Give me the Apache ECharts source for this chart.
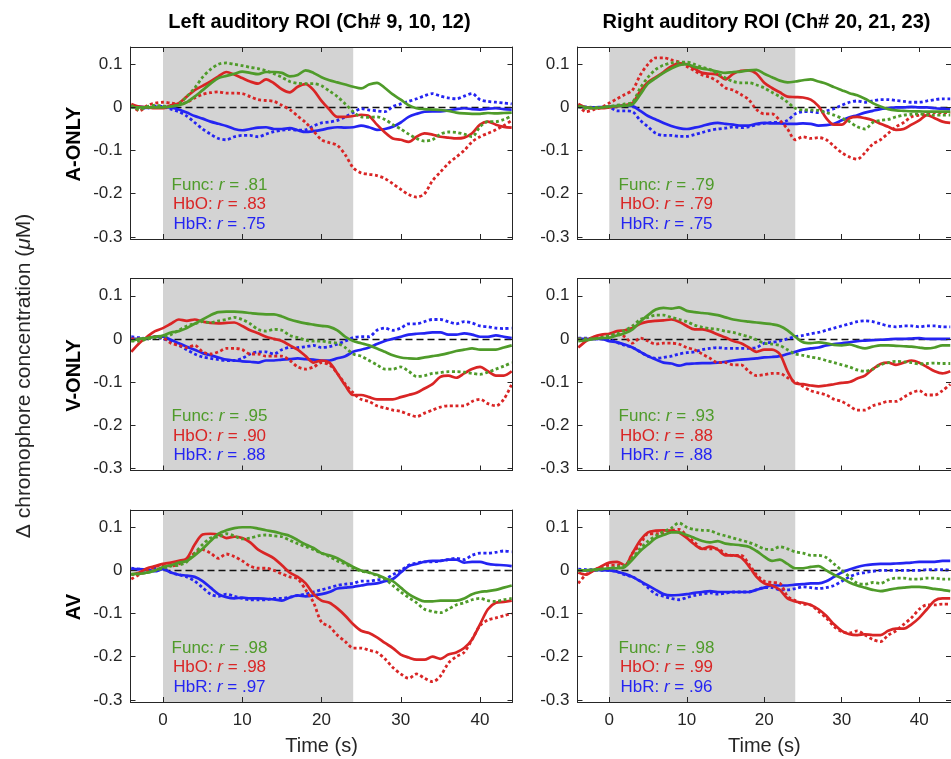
<!DOCTYPE html>
<html>
<head>
<meta charset="utf-8">
<script src="https://cdn.jsdelivr.net/npm/echarts@6/dist/echarts.min.js"></script>
<style>
  html, body { margin: 0; padding: 0; background: #fff; }
  #chart { width: 951px; height: 759px; }
</style>
</head>
<body>
<div id="chart"></div>
<script>
// time axis (s), one sample per second
var time = [-4, -3, -2, -1, 0, 1, 2, 3, 4, 5, 6, 7, 8, 9, 10, 11, 12, 13, 14, 15, 16, 17, 18, 19, 20,
  21, 22, 23, 24, 25, 26, 27, 28, 29, 30, 31, 32, 33, 34, 35, 36, 37, 38, 39, 40, 41, 42, 43, 44];

var regions = ["Left auditory ROI (Ch# 9, 10, 12)", "Right auditory ROI (Ch# 20, 21, 23)"];
var conditions = ["A-ONLY", "V-ONLY", "AV"];
var xTicks = [0, 10, 20, 30, 40];
var yTicks = [-0.3, -0.2, -0.1, 0, 0.1];
var stimOn = 0, stimOff = 24;

// r values: Func, HbO, HbR
var leftAR = [".81", ".83", ".75"];
var rightAR = [".79", ".79", ".75"];
var leftVR = [".95", ".90", ".88"];
var rightVR = [".93", ".88", ".88"];
var leftAVR = [".98", ".98", ".97"];
var rightAVR = [".98", ".99", ".96"];

// ---- Left, A-ONLY ----
var leftAFunc = [0, 0, 0, 0, 0, .002, .005, .012, .025, .04, .055, .068, .073, .078, .083, .08, .077, .082, .082, .08, .072, .075, .086, .08, .07,
  .063, .058, .053, .048, .044, .053, .057, .045, .03, .018, .005, -.002, -.004, -.005, -.006, -.008, -.012, -.014, -.015, -.015, -.013, -.014, -.013, -.012];
var leftAFuncPred = [.005, -.005, .002, .005, .003, .002, .008, .025, .045, .07, .088, .1, .103, .1, .097, .093, .09, .085, .078, .07, .06, .056, .055, .055, .05,
  .038, .025, .008, -.01, -.022, -.023, -.022, -.028, -.04, -.05, -.062, -.072, -.078, -.075, -.062, -.057, -.058, -.062, -.068, -.045, -.033, -.033, -.028, -.02];
var leftAHbO = [.008, .002, 0, -.002, -.002, .005, .01, .025, .04, .05, .06, .072, .082, .076, .068, .06, .055, .065, .056, .042, .035, .048, .054, .04, .015,
  -.005, -.022, -.022, -.02, -.017, -.02, -.04, -.058, -.072, -.075, -.08, -.068, -.06, -.063, -.068, -.07, -.072, -.07, -.06, -.04, -.033, -.04, -.045, -.047];
var leftAHbOPred = [.005, -.008, .004, .01, .012, .01, .008, .012, .022, .03, .034, .036, .033, .033, .032, .025, .018, .016, .014, .005, -.005, -.02, -.035, -.055, -.075,
  -.082, -.088, -.11, -.14, -.152, -.155, -.158, -.165, -.177, -.19, -.202, -.208, -.2, -.17, -.15, -.13, -.115, -.1, -.08, -.068, -.06, -.052, -.042, -.03];
var leftAHbR = [0, .002, -.001, .001, .001, 0, -.005, -.012, -.02, -.026, -.033, -.038, -.043, -.05, -.053, -.05, -.047, -.046, -.05, -.05, -.048, -.053, -.057, -.055, -.052,
  -.048, -.046, -.047, -.046, -.042, -.046, -.052, -.05, -.045, -.035, -.022, -.015, -.01, -.009, -.009, -.007, -.004, -.002, -.004, -.005, -.003, -.002, -.004, -.005];
var leftAHbRPred = [.002, 0, -.002, .003, .002, -.004, -.01, -.02, -.035, -.05, -.062, -.072, -.075, -.068, -.065, -.065, -.068, -.062, -.056, -.053, -.051, -.053, -.052, -.043, -.036,
  -.034, -.03, -.022, -.012, -.003, -.006, -.008, -.01, .002, .008, .014, .02, .027, .032, .026, .022, .02, .026, .032, .018, .014, .012, .01, .008];

// ---- Right, A-ONLY ----
var rightAFunc = [.003, 0, -.002, 0, .002, .003, .004, .007, .03, .055, .068, .08, .09, .098, .1, .094, .09, .087, .083, .08, .082, .083, .086, .087, .078,
  .07, .062, .058, .06, .063, .065, .06, .055, .047, .04, .033, .028, .02, .01, .002, -.004, -.007, -.008, -.009, -.009, -.01, -.01, -.01, -.01];
var rightAFuncPred = [.002, -.002, 0, 0, .002, .005, .008, .012, .045, .07, .088, .098, .103, .105, .105, .1, .093, .088, .078, .068, .06, .057, .057, .052, .045,
  .035, .025, .012, -.002, -.006, -.006, -.007, -.012, -.018, -.025, -.033, -.045, -.05, -.035, -.03, -.028, -.022, -.018, -.016, -.015, -.017, -.018, -.018, -.018];
var rightAHbO = [.008, 0, -.002, -.002, 0, .003, .005, .01, .038, .058, .07, .082, .095, .102, .1, .09, .08, .078, .076, .065, .078, .085, .086, .078, .057,
  .045, .035, .025, .024, .023, .018, .003, -.025, -.04, -.04, -.025, -.022, -.025, -.03, -.038, -.045, -.052, -.05, -.04, -.03, -.018, -.025, -.033, -.036];
var rightAHbOPred = [.005, -.01, -.005, 0, .01, .02, .03, .04, .075, .1, .115, .115, .11, .105, .095, .085, .075, .07, .06, .045, .04, .03, .018, -.005, -.015,
  -.015, -.03, -.05, -.075, -.068, -.072, -.07, -.075, -.09, -.105, -.115, -.12, -.105, -.085, -.075, -.06, -.045, -.035, -.022, -.018, -.015, -.012, -.012, -.012];
var rightAHbR = [.002, 0, 0, .001, .002, .003, .004, .003, -.008, -.02, -.028, -.036, -.043, -.048, -.05, -.047, -.043, -.038, -.036, -.038, -.04, -.042, -.042, -.038, -.036,
  -.037, -.037, -.038, -.038, -.037, -.038, -.042, -.041, -.038, -.03, -.023, -.018, -.012, -.008, -.004, -.002, 0, 0, .001, 0, 0, -.002, -.003, -.004];
var rightAHbRPred = [.001, .001, 0, 0, 0, -.008, -.008, -.01, -.03, -.045, -.06, -.065, -.065, -.067, -.067, -.063, -.058, -.053, -.05, -.048, -.045, -.047, -.045, -.04, -.037,
  -.035, -.035, -.03, -.015, -.01, -.01, -.012, -.008, -.003, .005, .012, .015, .012, .015, .018, .018, .016, .014, .012, .012, .015, .018, .02, .02];

// ---- Left, V-ONLY ----
var leftVFunc = [-.005, 0, .002, .005, .008, .015, .018, .025, .035, .045, .055, .062, .063, .063, .062, .06, .058, .057, .057, .052, .045, .04, .036, .033, .03,
  .028, .02, .005, -.005, -.01, -.015, -.022, -.03, -.038, -.043, -.045, -.046, -.043, -.04, -.037, -.033, -.028, -.025, -.022, -.025, -.025, -.025, -.02, -.015];
var leftVFuncPred = [-.005, -.005, 0, .003, .005, .01, .02, .03, .035, .04, .038, .042, .045, .05, .045, .035, .022, .018, .022, .02, .008, .003, -.003, -.005, -.005,
  -.008, -.01, -.02, -.035, -.04, -.05, -.06, -.07, -.07, -.065, -.075, -.087, -.085, -.08, -.078, -.076, -.076, -.077, -.08, -.082, -.077, -.07, -.063, -.055];
var leftVHbO = [-.03, -.01, .005, .018, .025, .035, .045, .042, .045, .04, .037, .036, .037, .038, .03, .02, .013, .005, 0, -.005, -.015, -.025, -.04, -.055, -.05,
  -.055, -.08, -.108, -.13, -.13, -.135, -.14, -.14, -.14, -.135, -.13, -.125, -.115, -.105, -.088, -.085, -.09, -.08, -.07, -.065, -.075, -.085, -.085, -.075];
var leftVHbOPred = [0, 0, .002, .005, .003, -.01, -.015, -.02, -.015, -.03, -.035, -.03, -.022, -.022, -.025, -.035, -.035, -.04, -.04, -.04, -.05, -.065, -.07, -.065, -.055,
  -.06, -.08, -.105, -.125, -.14, -.145, -.155, -.16, -.165, -.168, -.175, -.18, -.172, -.165, -.158, -.155, -.155, -.155, -.145, -.14, -.15, -.155, -.14, -.105];
var leftVHbR = [0, 0, .002, .005, .005, -.002, -.01, -.018, -.025, -.033, -.038, -.043, -.048, -.05, -.052, -.053, -.055, -.05, -.05, -.048, -.047, -.045, -.047, -.048, -.05,
  -.05, -.045, -.04, -.03, -.025, -.02, -.012, -.005, 0, .005, .01, .012, .013, .015, .015, .01, .01, .013, .01, .005, .005, .008, .005, .002];
var leftVHbRPred = [.005, .003, 0, .005, 0, -.005, -.015, -.025, -.035, -.042, -.045, -.048, -.05, -.05, -.045, -.035, -.03, -.03, -.035, -.025, -.02, -.02, -.018, -.015, -.02,
  -.018, -.012, -.005, .003, .005, .005, .02, .025, .02, .025, .035, .035, .04, .045, .045, .04, .035, .04, .037, .03, .028, .025, .024, .025];

// ---- Right, V-ONLY ----
var rightVFunc = [-.005, -.003, 0, .002, .003, .008, .013, .022, .04, .055, .068, .072, .07, .073, .065, .062, .06, .058, .055, .05, .045, .042, .04, .038, .036,
  .034, .03, .02, .005, -.008, -.01, -.008, -.01, -.014, -.015, -.013, -.018, -.022, -.018, -.015, -.015, -.016, -.017, -.018, -.02, -.022, -.02, -.015, -.015];
var rightVFuncPred = [0, 0, 0, .003, .008, .012, .02, .03, .045, .05, .055, .055, .05, .045, .04, .032, .027, .024, .022, .018, .015, .01, .005, -.002, -.01,
  -.012, -.015, -.025, -.035, -.038, -.042, -.045, -.05, -.055, -.06, -.065, -.072, -.075, -.07, -.06, -.055, -.052, -.053, -.055, -.058, -.057, -.056, -.057, -.057];
var rightVHbO = [-.02, -.005, .005, .01, .012, .018, .02, .025, .035, .04, .042, .043, .045, .04, .03, .022, .022, .018, .01, .003, -.005, -.01, -.02, -.03, -.025,
  -.025, -.035, -.075, -.103, -.105, -.108, -.11, -.108, -.105, -.102, -.1, -.092, -.085, -.07, -.058, -.055, -.06, -.055, -.05, -.055, -.065, -.075, -.08, -.075];
var rightVHbOPred = [0, 0, .003, .005, .008, .01, .005, -.01, .002, -.005, -.012, -.01, -.01, -.012, -.02, -.025, -.035, -.045, -.055, -.055, -.06, -.06, -.075, -.085, -.083,
  -.08, -.08, -.09, -.1, -.11, -.12, -.125, -.13, -.14, -.145, -.155, -.165, -.165, -.155, -.15, -.145, -.145, -.135, -.125, -.12, -.13, -.13, -.12, -.105];
var rightVHbR = [0, 0, 0, 0, -.005, -.008, -.013, -.02, -.03, -.04, -.048, -.055, -.057, -.062, -.058, -.057, -.056, -.056, -.055, -.053, -.05, -.048, -.047, -.045, -.043,
  -.042, -.04, -.035, -.03, -.025, -.022, -.02, -.015, -.012, -.01, -.008, -.005, -.004, -.003, -.002, -.001, 0, 0, .001, .002, 0, 0, 0, 0];
var rightVHbRPred = [.002, .002, 0, 0, -.002, -.008, -.015, -.02, -.03, -.04, -.045, -.043, -.04, -.035, -.032, -.03, -.025, -.022, -.02, -.022, -.022, -.022, -.022, -.02, -.01,
  -.008, -.005, 0, .005, .008, .012, .015, .02, .025, .03, .035, .04, .042, .04, .035, .03, .028, .03, .03, .028, .03, .03, .028, .028];

// ---- Left, AV ----
var leftAVFunc = [-.008, -.008, -.005, 0, .008, .012, .018, .022, .035, .05, .068, .085, .093, .098, .1, .1, .097, .093, .09, .085, .08, .07, .06, .052, .04,
  .035, .028, .018, .008, 0, -.005, -.01, -.018, -.025, -.04, -.055, -.065, -.072, -.072, -.07, -.07, -.07, -.065, -.055, -.05, -.048, -.045, -.04, -.035];
var leftAVFuncPred = [-.01, -.008, -.005, 0, .005, .01, .012, .02, .04, .06, .075, .078, .085, .08, .073, .075, .08, .082, .08, .078, .07, .062, .055, .048, .04,
  .032, .022, .015, .005, -.002, -.005, -.012, -.02, -.035, -.05, -.063, -.075, -.09, -.095, -.098, -.09, -.08, -.075, -.068, -.065, -.07, -.072, -.068, -.065];
var leftAVHbO = [-.01, -.005, .005, .01, .015, .018, .022, .028, .06, .083, .085, .083, .075, .078, .075, .065, .048, .038, .028, .012, -.005, -.015, -.03, -.055, -.07,
  -.075, -.088, -.105, -.125, -.14, -.145, -.155, -.168, -.18, -.195, -.202, -.207, -.207, -.2, -.205, -.195, -.19, -.18, -.16, -.125, -.09, -.075, -.073, -.07];
var leftAVHbOPred = [-.02, -.01, 0, .008, .012, .01, .015, .025, .04, .048, .04, .028, .038, .032, .022, .01, .005, .005, 0, -.008, -.015, -.02, -.045, -.075, -.12,
  -.13, -.15, -.165, -.18, -.18, -.185, -.19, -.205, -.225, -.24, -.25, -.24, -.25, -.258, -.245, -.215, -.2, -.19, -.16, -.128, -.115, -.11, -.105, -.1];
var leftAVHbR = [.003, .003, .002, -.002, .003, -.005, -.01, -.012, -.015, -.025, -.04, -.055, -.062, -.065, -.063, -.065, -.065, -.066, -.067, -.07, -.063, -.058, -.06, -.058, -.055,
  -.05, -.042, -.04, -.038, -.035, -.032, -.03, -.025, -.02, -.005, .01, .015, .02, .022, .022, .025, .025, .018, .02, .02, .015, .013, .012, .01];
var leftAVHbRPred = [.005, .003, 0, .005, .005, -.005, -.01, -.015, -.025, -.04, -.055, -.06, -.055, -.06, -.065, -.068, -.068, -.068, -.065, -.065, -.062, -.058, -.055, -.05, -.045,
  -.04, -.035, -.032, -.03, -.025, -.025, -.022, -.02, -.01, 0, .012, .017, .02, .02, .022, .025, .028, .025, .035, .04, .04, .042, .045, .043];

// ---- Right, AV ----
var rightAVFunc = [0, 0, .002, .003, .005, .005, .008, .025, .045, .06, .075, .082, .088, .088, .082, .075, .068, .065, .068, .062, .06, .058, .055, .045, .032,
  .022, .025, .015, .005, .005, .008, .01, 0, -.01, -.018, -.028, -.035, -.04, -.045, -.048, -.045, -.042, -.04, -.038, -.038, -.04, -.043, -.045, -.048];
var rightAVFuncPred = [0, 0, 0, .003, .005, .008, .012, .03, .05, .068, .08, .09, .098, .11, .1, .095, .093, .092, .085, .08, .075, .07, .065, .058, .05,
  .048, .055, .05, .043, .04, .035, .035, .03, .015, 0, -.015, -.03, -.032, -.028, -.03, -.022, -.018, -.018, -.02, -.02, -.018, -.018, -.02, -.02];
var rightAVHbO = [-.005, -.01, 0, .01, .018, .02, .012, .04, .07, .088, .092, .093, .092, .088, .075, .06, .05, .055, .048, .035, .035, .03, .01, -.015, -.03,
  -.035, -.045, -.065, -.072, -.075, -.08, -.09, -.105, -.125, -.14, -.148, -.15, -.148, -.15, -.15, -.14, -.135, -.135, -.125, -.11, -.09, -.07, -.065, -.065];
var rightAVHbOPred = [-.03, -.01, 0, .008, .012, .012, .01, .04, .06, .085, .085, .085, .092, .095, .08, .065, .05, .05, .05, .038, .035, .035, .015, -.01, -.025,
  -.028, -.03, -.06, -.07, -.078, -.08, -.095, -.11, -.13, -.142, -.145, -.14, -.15, -.16, -.165, -.15, -.14, -.125, -.11, -.09, -.08, -.08, -.078, -.078];
var rightAVHbR = [0, 0, 0, .001, 0, -.003, -.008, -.015, -.025, -.035, -.045, -.055, -.058, -.057, -.055, -.052, -.05, -.048, -.05, -.05, -.05, -.05, -.05, -.045, -.04,
  -.035, -.035, -.035, -.033, -.032, -.03, -.03, -.025, -.015, -.005, .002, .008, .012, .014, .015, .015, .016, .017, .018, .02, .02, .02, .022, .022];
var rightAVHbRPred = [.003, .002, .002, 0, 0, -.003, -.01, -.015, -.025, -.04, -.055, -.06, -.065, -.068, -.063, -.058, -.055, -.052, -.055, -.053, -.05, -.05, -.05, -.045, -.04,
  -.04, -.045, -.045, -.042, -.038, -.04, -.042, -.04, -.035, -.025, -.015, -.008, -.005, -.002, 0, 0, 0, 0, 0, 0, .002, .002, .002, 0];

var GREEN = "#4f9b2a", RED = "#d92525", BLUE = "#2424f2", INK = "#262626";
var FONT = "'Liberation Sans', Arial, Helvetica, sans-serif";

var panels = [
  { row: 0, col: 0, r: leftAR, lines: [leftAFunc, leftAFuncPred, leftAHbO, leftAHbOPred, leftAHbR, leftAHbRPred] },
  { row: 0, col: 1, r: rightAR, lines: [rightAFunc, rightAFuncPred, rightAHbO, rightAHbOPred, rightAHbR, rightAHbRPred] },
  { row: 1, col: 0, r: leftVR, lines: [leftVFunc, leftVFuncPred, leftVHbO, leftVHbOPred, leftVHbR, leftVHbRPred] },
  { row: 1, col: 1, r: rightVR, lines: [rightVFunc, rightVFuncPred, rightVHbO, rightVHbOPred, rightVHbR, rightVHbRPred] },
  { row: 2, col: 0, r: leftAVR, lines: [leftAVFunc, leftAVFuncPred, leftAVHbO, leftAVHbOPred, leftAVHbR, leftAVHbRPred] },
  { row: 2, col: 1, r: rightAVR, lines: [rightAVFunc, rightAVFuncPred, rightAVHbO, rightAVHbOPred, rightAVHbR, rightAVHbRPred] }
];

// layout
var colLeft = [130.5, 577.5], gridW = 382;
var rowTop = [47, 278.5, 510], gridH = 192;

function pairs(arr) {
  return time.map(function (t, i) { return [t, arr[i]]; });
}

var grids = [], xAxes = [], yAxes = [], series = [], graphics = [];

panels.forEach(function (p, g) {
  var bottomRow = p.row === 2;
  grids.push({ left: colLeft[p.col], top: rowTop[p.row], width: gridW, height: gridH });

  var xBase = {
    gridIndex: g, type: "value", min: -4.1, max: 44.1, z: 6,
    axisLine: { show: true, onZero: false, lineStyle: { color: INK, width: 1 } },
    axisTick: { show: true, inside: true, length: 5, customValues: xTicks, lineStyle: { color: INK } },
    splitLine: { show: false }
  };
  xAxes.push(Object.assign({}, xBase, {
    position: "bottom",
    axisLabel: { show: bottomRow, customValues: xTicks, fontSize: 17, color: INK, fontFamily: FONT, margin: 10 },
    name: bottomRow ? "Time (s)" : "", nameLocation: "middle", nameGap: 34,
    nameTextStyle: { fontSize: 20, color: INK, fontFamily: FONT }
  }));
  xAxes.push(Object.assign({}, xBase, { position: "top", axisLabel: { show: false } }));

  var yBase = {
    gridIndex: g, type: "value", min: -0.305, max: 0.14, z: 6,
    axisLine: { show: true, onZero: false, lineStyle: { color: INK, width: 1 } },
    axisTick: { show: true, inside: true, length: 5, customValues: yTicks, lineStyle: { color: INK } },
    splitLine: { show: false }
  };
  yAxes.push(Object.assign({}, yBase, {
    position: "left",
    axisLabel: {
      customValues: yTicks, fontSize: 17, color: INK, fontFamily: FONT, margin: 8,
      formatter: function (v) { return Math.abs(v) < 1e-9 ? "0" : v.toFixed(1); }
    }
  }));
  yAxes.push(Object.assign({}, yBase, { position: "right", axisLabel: { show: false } }));

  var xi = 2 * g, yi = 2 * g;
  // stimulus block + zero line
  series.push({
    type: "line", xAxisIndex: xi, yAxisIndex: yi, data: [], silent: true,
    markArea: { silent: true, z: 1, itemStyle: { color: "#d3d3d3" }, data: [[{ xAxis: stimOn }, { xAxis: stimOff }]] },
    markLine: {
      silent: true, z: 1.5, symbol: "none", label: { show: false },
      lineStyle: { color: "#111", width: 1.3, type: [7, 4] }, data: [{ yAxis: 0 }]
    }
  });

  var colors = [GREEN, GREEN, RED, RED, BLUE, BLUE];
  var order = [5, 4, 3, 2, 1, 0];
  order.forEach(function (k) {
    var dotted = k % 2 === 1;
    series.push({
      type: "line", xAxisIndex: xi, yAxisIndex: yi, z: 3,
      data: pairs(p.lines[k]), showSymbol: false, smooth: 0.3, silent: true,
      lineStyle: { color: colors[k], width: dotted ? 2.8 : 2.7, type: dotted ? [3, 2.6] : "solid" }
    });
  });

  // r annotations
  var names = ["Func", "HbO", "HbR"], tc = [GREEN, RED, BLUE];
  names.forEach(function (n, j) {
    graphics.push({
      type: "text", z: 20,
      x: colLeft[p.col] + 89, y: rowTop[p.row] + 138 + j * 19.5,
      style: {
        text: "{a|" + n + ": }{b|r}{a| = " + p.r[j] + "}",
        align: "center", verticalAlign: "middle", textAlign: "center", textVerticalAlign: "middle",
        rich: {
          a: { fill: tc[j], font: "17px " + FONT },
          b: { fill: tc[j], font: "italic 17px " + FONT }
        }
      }
    });
  });
});

// column titles
regions.forEach(function (t, c) {
  graphics.push({
    type: "text", x: colLeft[c] + 189, y: 22,
    style: { text: t, font: "bold 20px " + FONT, fill: "#000", align: "center", verticalAlign: "middle", textAlign: "center", textVerticalAlign: "middle" }
  });
});
// row labels
conditions.forEach(function (t, r) {
  graphics.push({
    type: "text", x: 74, y: rowTop[r] + gridH / 2 + 1, rotation: Math.PI / 2,
    style: { text: t, font: "bold 20px " + FONT, fill: "#000", align: "center", verticalAlign: "middle", textAlign: "center", textVerticalAlign: "middle" }
  });
});
// y title
graphics.push({
  type: "text", x: 24, y: 376, rotation: Math.PI / 2,
  style: {
    text: "{a|\u0394 chromophore concentration (}{b|\u03bc}{a|M)}",
    align: "center", verticalAlign: "middle", textAlign: "center", textVerticalAlign: "middle",
    rich: {
      a: { fill: INK, font: "21px " + FONT },
      b: { fill: INK, font: "italic 21px " + FONT }
    }
  }
});

var chart = echarts.init(document.getElementById("chart"));
chart.setOption({
  animation: false,
  backgroundColor: "#fff",
  textStyle: { fontFamily: FONT },
  grid: grids,
  xAxis: xAxes,
  yAxis: yAxes,
  series: series,
  graphic: graphics
});
</script>
</body>
</html>
